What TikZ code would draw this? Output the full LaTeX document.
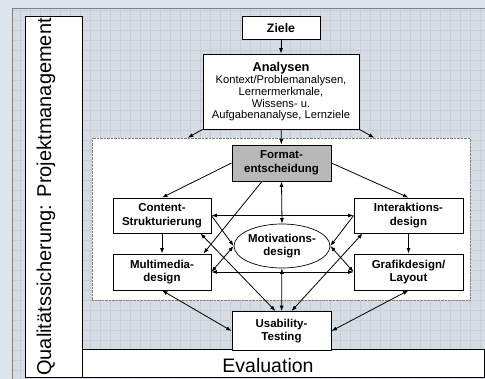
\documentclass[tikz,border=0pt]{standalone}
\usepackage{fontspec}
\setmainfont{Liberation Sans}
\usetikzlibrary{shapes.geometric,arrows.meta,calc}
\definecolor{backdrop}{HTML}{DCE5EC}
\definecolor{gridfill}{HTML}{D5DCE3}
\definecolor{gridline}{HTML}{C8CED5}
\definecolor{formatgrey}{HTML}{B8B8B8}

\begin{document}
\begin{tikzpicture}[x=1pt,y=-1pt,
    box/.style={draw,fill=white,line width=0.8pt,align=center,inner sep=0pt,
      font=\fontsize{11.5}{13.8}\selectfont\bfseries},
    link/.style={line width=0.8pt,-{Latex[length=5.5pt,width=4pt]}},
    both/.style={line width=0.8pt,{Latex[length=5.5pt,width=4pt]}-{Latex[length=5.5pt,width=4pt]}}]
  \useasboundingbox (0,0) rectangle (485,379);
  \fill[backdrop] (0,0) rectangle (485,379);
  \fill[gridfill] (12,8) rectangle (485,379);
  \draw[gridline,line width=0.35pt,step=10pt] (12,8) grid (485,379);
  \draw[gray,line width=0.6pt] (485,8) -- (12,8) -- (12,379);

  \node[draw,fill=white,line width=0.8pt,minimum width=57,minimum height=361,inner sep=0pt] (quali) at (53.5,196.5) {};
  \node[rotate=90,inner sep=0pt,font=\fontsize{20}{22}\selectfont] (qualitext) at (46,197) {Qualitätssicherung: Projektmanagement};
  \node[draw,fill=white,line width=0.8pt,minimum width=402,minimum height=28,inner sep=0pt] (eval) at (283,363) {};
  \node[anchor=base,inner sep=0pt,font=\fontsize{19.5}{22}\selectfont] (evaltext) at (268,373) {Evaluation};
  \node[draw=gray,densely dotted,fill=white,minimum width=378,minimum height=162,inner sep=0pt] (group) at (281,219) {};

  \node[box,font=\fontsize{12.3}{14}\selectfont\bfseries,minimum width=78,minimum height=23] (ziele) at (281,28) {Ziele};
  \node[box,font=\fontsize{11.2}{11.7}\selectfont,minimum width=156,minimum height=75] (analysen) at (281,91.5)
    {{\bfseries\fontsize{12.8}{15}\selectfont Analysen}\\[1pt]Kontext/Problemanalysen,\\Lernermerkmale,\\Wissens- u.\\Aufgabenanalyse, Lernziele};
  \node[box,fill=formatgrey,minimum width=99,minimum height=36] (format) at (281.5,163) {Format-\\entscheidung};
  \node[box,minimum width=98,minimum height=35] (content) at (162,215.5) {Content-\\Strukturierung};
  \node[box,minimum width=109,minimum height=35] (interakt) at (408.5,215.5) {Interaktions-\\design};
  \node[box,minimum width=98,minimum height=36] (multi) at (162,272) {Multimedia-\\design};
  \node[box,minimum width=109,minimum height=36] (grafik) at (408.5,272) {Grafikdesign/\\Layout};
  \node[box,ellipse,line width=0.7pt,minimum width=96,minimum height=44] (motiv) at (282,246) {Motivations-\\design};
  \node[box,minimum width=99,minimum height=39] (usab) at (281.5,331) {Usability-\\Testing};

  \draw[link] (ziele) -- (analysen);
  \draw[link] (analysen) -- (format);
  \draw[link] (analysen.south west) -- ($(analysen.south west |- group.north)+(-15,0)$);
  \draw[link] (analysen.south east) -- ($(analysen.south east |- group.north)+(15,0)$);
  \draw[link] (format.west) -- (content.north);
  \draw[link] (format.east) -- (interakt.north);
  \draw[link] ([xshift=-19.5pt]format.south) -- ([xshift=-8pt]multi.north east);
  \draw[both] (format.south) -- (motiv.north);
  \draw[both] (content.east) -- (interakt.west);
  \draw[both] (multi.east) -- (grafik.west);
  \draw[link] (content) -- (multi);
  \draw[link] (interakt) -- (grafik);
  \draw[link] (content.east) -- (motiv.west);
  \draw[both] (multi.east) -- (motiv.west);
  \draw[link] (interakt.west) -- (motiv.east);
  \draw[both] (grafik.west) -- (motiv.east);
  \draw[both] ([xshift=-11pt]content.south east) -- ([xshift=-6pt]usab.north);
  \draw[both] ([xshift=9pt]interakt.south west) -- ([xshift=10pt]usab.north);
  \draw[both] (motiv) -- (usab);
  \draw[both] (multi.south) -- (usab.west);
  \draw[both] (grafik.south) -- (usab.east);
\end{tikzpicture}
\end{document}
